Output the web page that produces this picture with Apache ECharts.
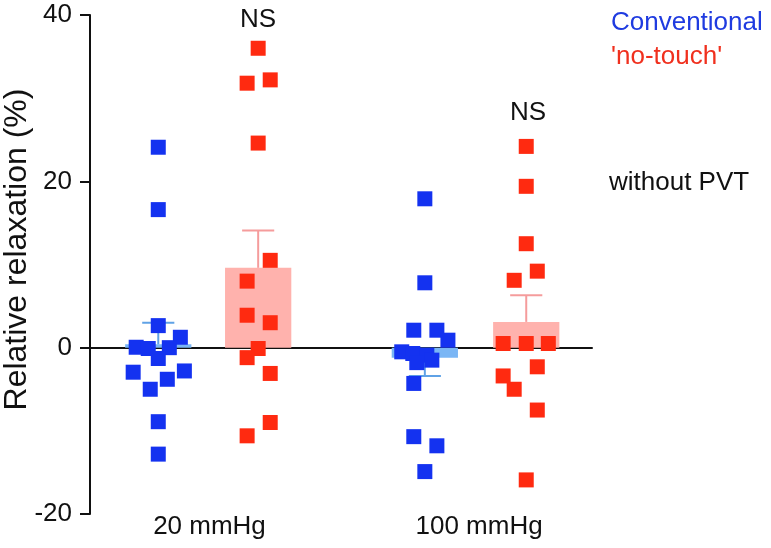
<!DOCTYPE html>
<html>
<head>
<meta charset="utf-8">
<script src="https://cdn.jsdelivr.net/npm/echarts@6/dist/echarts.min.js"></script>
<style>html,body{margin:0;padding:0;background:#fff}#c{width:771px;height:548px}</style>
</head>
<body>
<div id="c"></div>
<script>
// ---- data ----
const categories = ['20 mmHg', '100 mmHg'];
const yTicks = [-20, 0, 20, 40];
// individual values (%)
const conv20   = [24.1, 16.6, 2.65, 1.25, 0.05, -0.1, 0, -1.3, -2.95, -2.8, -3.8, -5.0, -8.9, -12.8];
const conv20J  = [0, 0, 0, 0.44, -0.44, -0.2, 0.22, 0, -0.5, 0.52, 0.18, -0.16, 0, 0];
const touch20  = [36.0, 31.8, 32.2, 24.6, 10.5, 8.0, 3.9, 3.0, -0.1, -1.2, -3.1, -9.0, -10.6];
const touch20J = [0, -0.22, 0.24, 0, 0.24, -0.22, -0.22, 0.24, 0, -0.22, 0.24, 0.24, -0.22];
const conv100  = [17.9, 7.8, 2.1, 2.1, 0.9, -0.5, -0.7, -0.9, -1.5, -1.8, -4.3, -10.7, -11.8, -14.9];
const conv100J = [0, 0, -0.22, 0.24, 0.46, -0.46, -0.24, 0.04, 0.14, -0.16, -0.22, -0.22, 0.24, 0];
const touch100 = [24.2, 19.4, 12.5, 9.2, 8.1, 0.5, 0.5, 0.5, -2.3, -3.4, -5.0, -7.5, -15.9];
const touch100J= [0, 0, 0, 0.22, -0.24, -0.46, 0, 0.44, 0.22, -0.46, -0.24, 0.22, 0];
// bar means and SEM
const convMean  = [0.4, -1.2];
const convSem   = [2.6, -2.2];
const touchMean = [9.6, 3.1];
const touchSem  = [4.5, 3.2];

// ---- layout ----
const convPos = [1.36, 6.67];
const touchPos = [3.35, 8.69];
const labelPos = [2.38, 7.75];
const barHalf = 0.66, capHalf = 0.32;
const FONT = 'Liberation Sans';
const BLUE = '#1432f0', RED = '#ff2a10';
const FS = 26;

function pts(vals, jit, center) { return vals.map((v, i) => [center + jit[i], v]); }
function barData(pos, mean, sem) { return pos.map((p, i) => [p, mean[i], sem[i]]); }

function barRenderer(fill, errColor) {
  return function (params, api) {
    const x = api.value(0), m = api.value(1), e = api.value(2);
    const p1 = api.coord([x - barHalf, m]);
    const p2 = api.coord([x + barHalf, 0]);
    const top = api.coord([x, m]);
    const end = api.coord([x, m + e]);
    const c1 = api.coord([x - capHalf, m + e]);
    const c2 = api.coord([x + capHalf, m + e]);
    return {
      type: 'group',
      children: [
        { type: 'rect', shape: { x: p1[0], y: Math.min(p1[1], p2[1]), width: p2[0] - p1[0], height: Math.abs(p2[1] - p1[1]) }, style: { fill: fill } },
        { type: 'line', shape: { x1: top[0], y1: top[1], x2: end[0], y2: end[1] }, style: { stroke: errColor, lineWidth: 2 } },
        { type: 'line', shape: { x1: c1[0], y1: c1[1], x2: c2[0], y2: c2[1] }, style: { stroke: errColor, lineWidth: 2 } }
      ]
    };
  };
}

const chart = echarts.init(document.getElementById('c'));
chart.setOption({
  animation: false,
  backgroundColor: '#fff',
  textStyle: { fontFamily: FONT },
  grid: { left: 90, right: 179, top: 15, bottom: 34, outerBoundsMode: 'none', containLabel: false },
  xAxis: [{
    type: 'value', min: 0, max: 10, position: 'bottom',
    axisLine: { show: false, onZero: false }, axisTick: { show: false }, splitLine: { show: false },
    axisLabel: {
      customValues: labelPos, fontSize: FS, color: '#111', fontFamily: FONT, margin: 0,
      formatter: v => { const i = labelPos.findIndex(p => Math.abs(p - v) < 1e-6); return i >= 0 ? categories[i] : ''; }
    }
  }, {
    type: 'value', min: 0, max: 10, position: 'top',
    axisLine: { show: true, onZero: true, lineStyle: { color: '#111', width: 2 } },
    axisTick: { show: false }, axisLabel: { show: false }, splitLine: { show: false }
  }],
  yAxis: {
    type: 'value', min: -20, max: 40, interval: 20,
    name: 'Relative relaxation (%)', nameLocation: 'middle', nameGap: 57, nameMoveOverlap: false,
    nameTextStyle: { fontSize: 32, color: '#111', fontFamily: FONT, padding: [0, 0, 0, 30] },
    axisLine: { show: true, onZero: false, lineStyle: { color: '#111', width: 2 } },
    axisTick: { show: true, length: 10, lineStyle: { color: '#111', width: 2 } },
    axisLabel: { fontSize: FS, color: '#111', fontFamily: FONT, margin: 18, customValues: yTicks },
    splitLine: { show: false }
  },
  series: [
    { type: 'custom', name: 'convBar', data: barData(convPos, convMean, convSem), renderItem: barRenderer('#7ab6f5', '#5fa2e6'), z: 1, clip: false },
    { type: 'custom', name: 'touchBar', data: barData(touchPos, touchMean, touchSem), renderItem: barRenderer('#ffb2ad', '#f59c9c'), z: 1, clip: false },
    { type: 'scatter', name: 'Conventional', symbol: 'rect', symbolSize: 15, itemStyle: { color: BLUE, opacity: 1 }, z: 5,
      data: pts(conv20, conv20J, convPos[0]).concat(pts(conv100, conv100J, convPos[1])) },
    { type: 'scatter', name: "'no-touch'", symbol: 'rect', symbolSize: 15, itemStyle: { color: RED, opacity: 1 }, z: 5,
      data: pts(touch20, touch20J, touchPos[0]).concat(pts(touch100, touch100J, touchPos[1])) }
  ],
  graphic: [
    { type: 'text', x: 611, y: 23, style: { text: 'Conventional', fontSize: FS, fill: '#1f3be0', fontFamily: FONT, verticalAlign: 'middle' } },
    { type: 'text', x: 611, y: 57, style: { text: "'no-touch'", fontSize: FS, fill: '#f0301e', fontFamily: FONT, verticalAlign: 'middle' } },
    { type: 'text', x: 609, y: 183, style: { text: 'without PVT', fontSize: FS, fill: '#111', fontFamily: FONT, verticalAlign: 'middle' } },
    { type: 'text', x: 258, y: 20, style: { text: 'NS', fontSize: FS, fill: '#111', fontFamily: FONT, align: 'center', verticalAlign: 'middle' } },
    { type: 'text', x: 528, y: 113, style: { text: 'NS', fontSize: FS, fill: '#111', fontFamily: FONT, align: 'center', verticalAlign: 'middle' } }
  ]
});
</script>
</body>
</html>
